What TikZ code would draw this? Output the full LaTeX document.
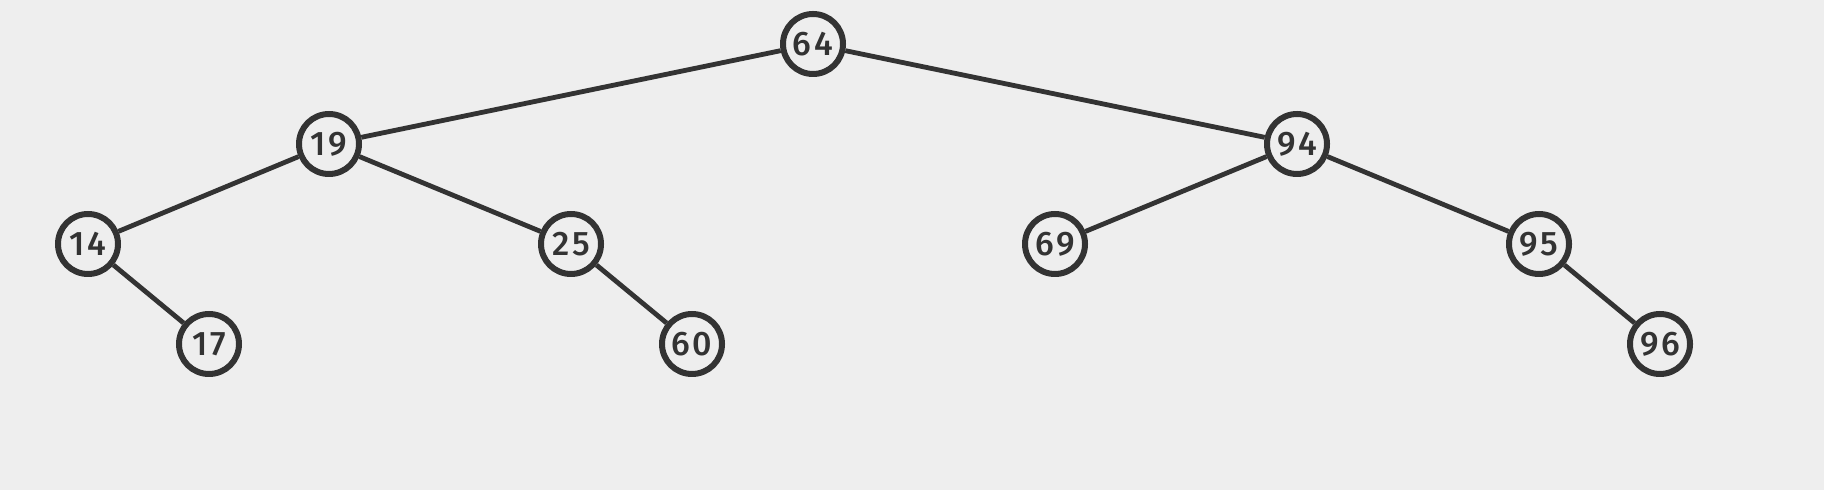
\documentclass[tikz,border=0pt]{standalone}
\usepackage{fontspec}
\setmainfont{Fira Sans}[UprightFont=* Medium]
\newfontfamily\keyfont{Fira Sans}[UprightFont=* Medium, LetterSpace=8]
\definecolor{bg}{HTML}{eeeeee}
\definecolor{ink}{HTML}{333333}
\tikzset{
  key/.style={circle, draw=ink, line width=3pt, minimum size=30pt, inner sep=0pt,
    text=ink, font=\keyfont\fontsize{17}{17}\selectfont},
  edge/.style={draw=ink, line width=2.4pt}
}

\begin{document}
\begin{tikzpicture}[x=0.5pt, y=-0.5pt]
\fill[bg] (0,0) rectangle (1824,490);
\useasboundingbox (0,0) rectangle (1824,490);
% nodes of the tree
\node[key] (n64) at (813,44) {64};
\node[key] (n19) at (329,144) {19};
\node[key] (n94) at (1297,144) {94};
\node[key] (n14) at (88,244) {14};
\node[key] (n25) at (571,244) {25};
\node[key] (n69) at (1055,244) {69};
\node[key] (n95) at (1539,244) {95};
\node[key] (n17) at (209,344) {17};
\node[key] (n60) at (692,344) {60};
\node[key] (n96) at (1660,344) {96};
% edges
\foreach \a/\b in {n64/n19, n64/n94, n19/n14, n19/n25, n94/n69, n94/n95, n14/n17, n25/n60, n95/n96}
  \draw[edge] (\a) -- (\b);
\end{tikzpicture}
\end{document}
